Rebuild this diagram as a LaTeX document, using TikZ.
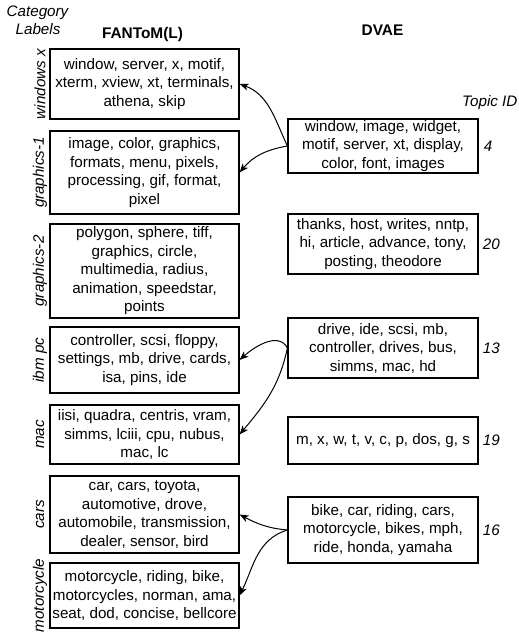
\documentclass[tikz,border=0pt]{standalone}
\usepackage{fontspec}
\setmainfont{Liberation Sans}
\usetikzlibrary{arrows.meta}
\begin{document}
\begin{tikzpicture}[x=1bp,y=1bp,
  every node/.style={font=\fontsize{15.2bp}{18.5bp}\selectfont, inner sep=0pt},
  catbox/.style={draw, line width=1.2bp, align=center, minimum width=189bp, minimum height=#1},
  topbox/.style={draw, line width=1.2bp, align=center, minimum width=190bp, minimum height=#1},
  catlabel/.style={rotate=90, font=\fontsize{15.2bp}{18.5bp}\selectfont\itshape},
  tid/.style={anchor=west, font=\fontsize{15.2bp}{18.5bp}\selectfont\itshape},
  hdr/.style={anchor=base, font=\fontsize{15.4bp}{18.5bp}\selectfont\bfseries},
  arr/.style={line width=1bp, -{Stealth[length=9bp,width=7bp,inset=2.5bp]}}]
\useasboundingbox (0,0) rectangle (519,632);
% headers
\node[anchor=base, font=\fontsize{15.2bp}{18.5bp}\selectfont\itshape] (hcat) at (37.5,615.3) {Category};
\node[anchor=base, font=\fontsize{15.2bp}{18.5bp}\selectfont\itshape] (hlab) at (38,597.3) {Labels};
\node[hdr] (hfan) at (142.5,593) {FANToM(L)};
\node[hdr] (hdvae) at (382.5,596) {DVAE};
\node[anchor=base west, font=\fontsize{15.2bp}{18.5bp}\selectfont\itshape] (htid) at (462,525.5) {Topic ID};
% left column
\node[catbox=70bp] (L1) at (144.5,548) {window, server, x, motif,\\xterm, xview, xt, terminals,\\athena, skip};
\node[catbox=83bp] (L2) at (144.5,459.5) {image, color, graphics,\\formats, menu, pixels,\\processing, gif, format,\\pixel};
\node[catbox=94bp] (L3) at (144.5,361) {polygon, sphere, tiff,\\graphics, circle,\\multimedia, radius,\\animation, speedstar,\\points};
\node[catbox=66bp] (L4) at (144.5,272) {controller, scsi, floppy,\\settings, mb, drive, cards,\\isa, pins, ide};
\node[catbox=59bp] (L5) at (144.5,197.5) {iisi, quadra, centris, vram,\\simms, lciii, cpu, nubus,\\mac, lc};
\node[catbox=77bp] (L6) at (144.5,117.5) {car, cars, toyota,\\automotive, drove,\\automobile, transmission,\\dealer, sensor, bird};
\node[catbox=65bp] (L7) at (144.5,36.5) {motorcycle, riding, bike,\\motorcycles, norman, ama,\\seat, dod, concise, bellcore};
% category labels
\node[catlabel] (c1) at (40,548) {windows x};
\node[catlabel] (c2) at (40,459.5) {graphics-1};
\node[catlabel] (c3) at (40,361) {graphics-2};
\node[catlabel] (c4) at (40,272) {ibm pc};
\node[catlabel] (c5) at (40,197.5) {mac};
\node[catlabel] (c6) at (40,117.5) {cars};
\node[catlabel] (c7) at (40,36.5) {motorcycle};
% right column
\node[topbox=54bp] (R4) at (383,486) {window, image, widget,\\motif, server, xt, display,\\color, font, images};
\node[topbox=60bp] (R20) at (383,388) {thanks, host, writes, nntp,\\hi, article, advance, tony,\\posting, theodore};
\node[topbox=60bp] (R13) at (383,284) {drive, ide, scsi, mb,\\controller, drives, bus,\\simms, mac, hd};
\node[topbox=47bp] (R19) at (383,191.5) {m, x, w, t, v, c, p, dos, g, s};
\node[topbox=66bp] (R16) at (383,102) {bike, car, riding, cars,\\motorcycle, bikes, mph,\\ride, honda, yamaha};
% topic ids
\node[tid] (t4) at ([xshift=5bp]R4.east) {4};
\node[tid] (t20) at ([xshift=4bp]R20.east) {20};
\node[tid] (t13) at ([xshift=4bp]R13.east) {13};
\node[tid] (t19) at ([xshift=4bp]R19.east) {19};
\node[tid] (t16) at ([xshift=4bp]R16.east) {16};
% arrows
\draw[arr] (R4.west) to[out=115,in=-20] (L1.east);
\draw[arr] (R4.west) to[out=190,in=50] (L2.east);
\draw[arr] (R13.west) to[out=118,in=42] (L4.east);
\draw[arr] (R13.west) to[out=258,in=50] (L5.east);
\draw[arr] (R16.west) to[out=175,in=-28] (L6.east);
\draw[arr] (R16.west) to[out=197,in=64] (L7.east);
\end{tikzpicture}
\end{document}
